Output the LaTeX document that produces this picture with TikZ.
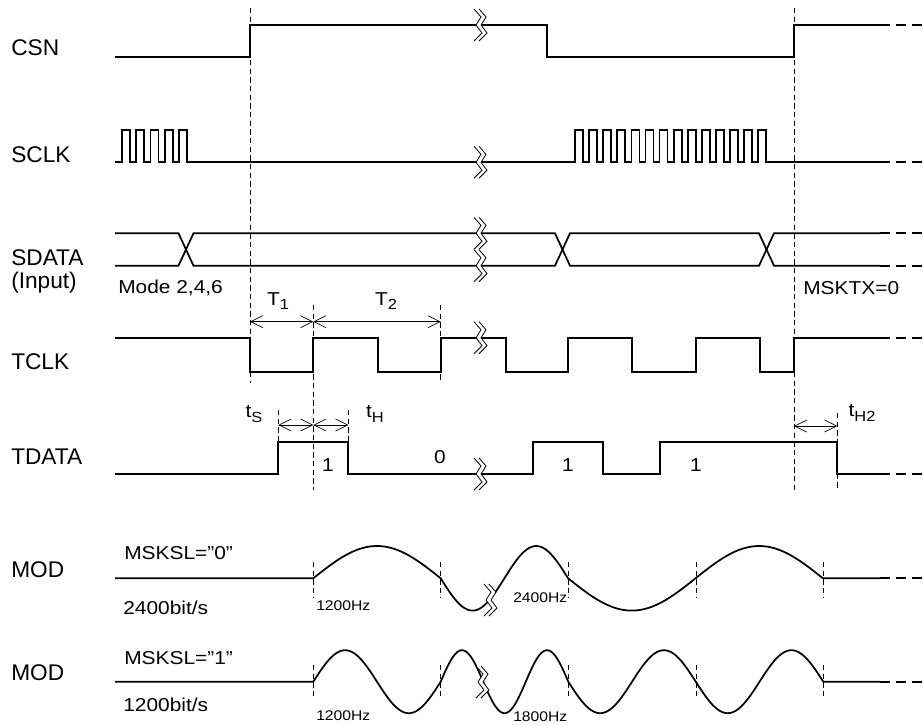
\documentclass[tikz,border=0pt]{standalone}
\usepackage{fontspec}
\setmainfont{Liberation Sans}
\newfontfamily\annfont[FakeStretch=1.12]{Liberation Sans}
\usetikzlibrary{arrows.meta}

% break mark on a signal line
\newcommand{\sigbreak}[2]{%
  \fill[white] (#1-4,#2-16) -- (#1+3,#2-8) -- (#1-2,#2) -- (#1+4,#2+8) -- (#1-4,#2+16)
    -- (#1+1,#2+16) -- (#1+9,#2+8) -- (#1+3,#2) -- (#1+8,#2-8) -- (#1+1,#2-16) -- cycle;
  \draw[brkline] (#1-4,#2-16) -- (#1+3,#2-8) -- (#1-2,#2) -- (#1+4,#2+8) -- (#1-4,#2+16);
  \draw[brkline] (#1+1,#2-16) -- (#1+8,#2-8) -- (#1+3,#2) -- (#1+9,#2+8) -- (#1+1,#2+16);
}
\newcommand{\subt}[1]{\raisebox{-0.45ex}{\fontsize{11}{12}\selectfont #1}}

\begin{document}
\begin{tikzpicture}[x=0.75pt,y=-0.75pt,
    sig/.style={line width=1.3pt},
    ext/.style={line width=1.3pt,dash pattern=on 7.5pt off 4.5pt},
    guide/.style={line width=0.7pt,dash pattern=on 4pt off 2.5pt},
    dim/.style={line width=0.5pt,{Straight Barb[length=9pt,width=9pt]}-{Straight Barb[length=9pt,width=9pt]}},
    brkline/.style={line width=0.6pt},
    signame/.style={font=\fontsize{17}{20}\selectfont,inner sep=0pt,anchor=west},
    lbl/.style={font=\annfont\fontsize{14}{17}\selectfont,inner sep=0pt},
    hz/.style={font=\annfont\fontsize{10.5}{12}\selectfont,inner sep=0pt,anchor=west}]
  \useasboundingbox (0,0) rectangle (924,725);

  % signal names
  \node[signame] (csn) at (11,48) {CSN};
  \node[signame] (sclk) at (11,155) {SCLK};
  \node[signame] (sdata) at (11,258) {SDATA};
  \node[signame] (input) at (11,283) {(Input)};
  \node[signame] (tclk) at (11,361.7) {TCLK};
  \node[signame] (tdata) at (11,456.7) {TDATA};
  \node[signame] (mod_a) at (11,570) {MOD};
  \node[signame] (mod_b) at (11,673) {MOD};

  % guide lines
  \draw[guide] (250,8) -- (250,383);
  \draw[guide] (794,8) -- (794,490);
  \draw[guide] (313.3,305) -- (313.3,490);
  \draw[guide] (440.7,305) -- (440.7,383);
  \draw[guide] (278.3,410) -- (278.3,442);
  \draw[guide] (348.3,410) -- (348.3,442);
  \draw[guide] (837.3,413) -- (837.3,490);
  \foreach \x in {313.3,440.7,568.3,696,823.3} {
    \draw[guide] (\x,562) -- (\x,598);
    \draw[guide] (\x,665) -- (\x,698);
  }

  % CSN
  \draw[sig] (115,57.3) -- (250,57.3) -- (250,25) -- (547,25) -- (547,57.3) -- (794,57.3) -- (794,25) -- (880,25);
  \draw[ext] (880,25) -- (924,25);

  % SCLK
  \draw[sig] (115,162.3) foreach \i in {0,...,4} { -- (122+14.3*\i,162.3) -- (122+14.3*\i,130) -- (130+14.3*\i,130) -- (130+14.3*\i,162.3) }
    -- (575,162.3) foreach \i in {0,...,13} { -- (575+14.1*\i,162.3) -- (575+14.1*\i,130) -- (583+14.1*\i,130) -- (583+14.1*\i,162.3) }
    -- (880,162.3);
  \draw[ext] (880,162.3) -- (924,162.3);

  % SDATA
  \draw[sig] (115,233.3) -- (178.5,233.3) -- (193.5,265.7) -- (555,265.7) -- (570,233.3) -- (759,233.3) -- (774,265.7) -- (880,265.7);
  \draw[sig] (115,265.7) -- (178.5,265.7) -- (193.5,233.3) -- (555,233.3) -- (570,265.7) -- (759,265.7) -- (774,233.3) -- (880,233.3);
  \draw[ext] (880,233.3) -- (924,233.3) (880,265.7) -- (924,265.7);
  \node[lbl,anchor=west] (mode) at (118,288) {Mode 2,4,6};
  \node[lbl,anchor=west] (msktx) at (803,288) {MSKTX=0};

  % TCLK
  \draw[sig] (115,337.7) -- (250,337.7) -- (250,371.7) -- (313.3,371.7) -- (313.3,337.7) -- (377.7,337.7) -- (377.7,371.7)
    -- (440.7,371.7) -- (440.7,337.7) -- (505.7,337.7) -- (505.7,371.7) -- (568.3,371.7) -- (568.3,337.7) -- (631.7,337.7)
    -- (631.7,371.7) -- (696,371.7) -- (696,337.7) -- (760,337.7) -- (760,371.7) -- (794,371.7) -- (794,337.7) -- (880,337.7);
  \draw[ext] (880,337.7) -- (924,337.7);
  \draw[dim] (250,321.7) -- (313.3,321.7);
  \draw[dim] (313.3,321.7) -- (440.7,321.7);
  \node[lbl] (t_one) at (278,301) {T\subt{1}};
  \node[lbl] (t_two) at (386,301) {T\subt{2}};

  % TDATA
  \draw[sig] (115,474) -- (278.3,474) -- (278.3,442.3) -- (348.3,442.3) -- (348.3,474) -- (533.3,474) -- (533.3,442.3)
    -- (603.3,442.3) -- (603.3,474) -- (660,474) -- (660,442.3) -- (837.3,442.3) -- (837.3,474) -- (880,474);
  \draw[ext] (880,474) -- (924,474);
  \draw[dim] (278.3,425) -- (313.3,425);
  \draw[dim] (313.3,425) -- (348.3,425);
  \draw[dim] (794,426) -- (837.3,426);
  \node[lbl] (ts) at (254,414) {t\subt{S}};
  \node[lbl] (th) at (375,414) {t\subt{H}};
  \node[lbl] (th2) at (862,413) {t\subt{H2}};
  \node[lbl] (bit_a) at (328,465) {1};
  \node[lbl] (bit_b) at (440,457) {0};
  \node[lbl] (bit_c) at (568,465) {1};
  \node[lbl] (bit_d) at (696,465) {1};

  % MOD, MSKSL="0"
  \draw[sig] (115,578.3) -- (313.3,578.3)
    -- plot[domain=313.3:440.7,samples=40] (\x,{578.3-32.3*sin((\x-313.3)/127.4*180)})
    -- plot[domain=440.7:568.1,samples=60] (\x,{578.3+32.3*sin((\x-440.7)/127.4*360)})
    -- plot[domain=568.1:695.5,samples=40] (\x,{578.3+32.3*sin((\x-568.1)/127.4*180)})
    -- plot[domain=695.5:822.9,samples=40] (\x,{578.3-32.3*sin((\x-695.5)/127.4*180)})
    -- (880,578.3);
  \draw[ext] (880,578.3) -- (924,578.3);
  \node[lbl,anchor=west] (msksl_a) at (124,553) {MSKSL=”0”};
  \node[lbl,anchor=west] (rate_a) at (123,608) {2400bit/s};
  \node[hz] (hz_a) at (316,606) {1200Hz};
  \node[hz] (hz_b) at (513,598) {2400Hz};

  % MOD, MSKSL="1"
  \draw[sig] (115,681.7) -- (313.3,681.7)
    -- plot[domain=313.3:440.7,samples=60] (\x,{681.7-31.5*sin((\x-313.3)/127.4*360)})
    -- plot[domain=440.7:568.3,samples=70] (\x,{681.7-31.5*sin((\x-440.7)/85.07*360)})
    -- plot[domain=568.3:823.3,samples=100] (\x,{681.7+31.5*sin((\x-568.3)/127.5*360)})
    -- (880,681.7);
  \draw[ext] (880,681.7) -- (924,681.7);
  \node[lbl,anchor=west] (msksl_b) at (124,658) {MSKSL=”1”};
  \node[lbl,anchor=west] (rate_b) at (123,705) {1200bit/s};
  \node[hz] (hz_c) at (316,716) {1200Hz};
  \node[hz] (hz_d) at (513,717) {1800Hz};

  % breaks
  \sigbreak{478}{25}
  \sigbreak{478}{162.3}
  \sigbreak{478}{233.3}
  \sigbreak{478}{265.7}
  \sigbreak{478}{337.7}
  \sigbreak{478}{474}
  \sigbreak{488}{600}
  \sigbreak{480}{682}
\end{tikzpicture}
\end{document}
